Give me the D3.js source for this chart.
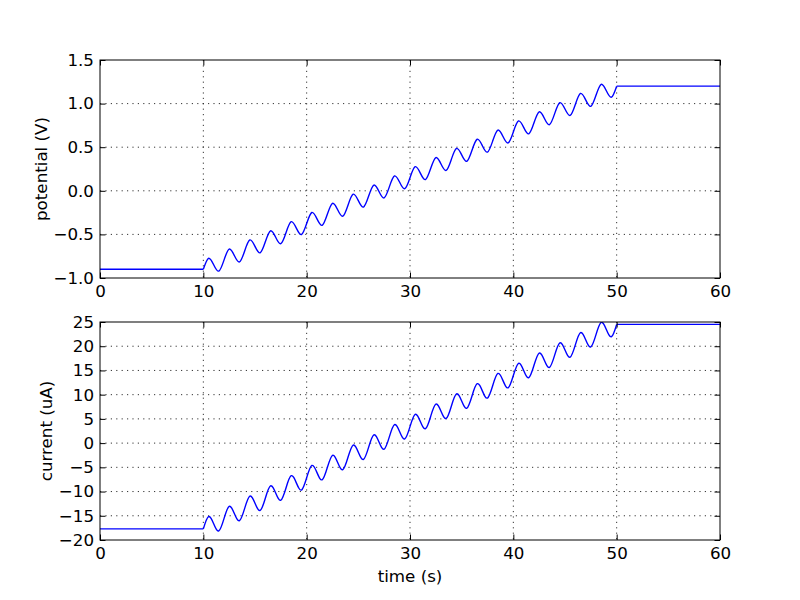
<!DOCTYPE html>
<html><head><meta charset="utf-8">
<script src="https://cdn.jsdelivr.net/npm/d3@7"></script>
<style>body{margin:0;background:#fff}svg{display:block}text{font-family:"DejaVu Sans",sans-serif;}</style>
</head><body>
<svg id="c" width="800" height="600"></svg>
<script>
const time = [0,10,10.5,11,11.5,12,12.5,13,13.5,14,14.5,15,15.5,16,16.5,17,17.5,18,18.5,19,19.5,20,20.5,21,21.5,22,22.5,23,23.5,24,24.5,25,25.5,26,26.5,27,27.5,28,28.5,29,29.5,30,30.5,31,31.5,32,32.5,33,33.5,34,34.5,35,35.5,36,36.5,37,37.5,38,38.5,39,39.5,40,40.5,41,41.5,42,42.5,43,43.5,44,44.5,45,45.5,46,46.5,47,47.5,48,48.5,49,49.5,50,60];
const potential = [-0.9,-0.9,-0.774,-0.8475,-0.921,-0.795,-0.669,-0.7425,-0.816,-0.69,-0.564,-0.6375,-0.711,-0.585,-0.459,-0.5325,-0.606,-0.48,-0.354,-0.4275,-0.501,-0.375,-0.249,-0.3225,-0.396,-0.27,-0.144,-0.2175,-0.291,-0.165,-0.039,-0.1125,-0.186,-0.06,0.066,-0.0075,-0.081,0.045,0.171,0.0975,0.024,0.15,0.276,0.2025,0.129,0.255,0.381,0.3075,0.234,0.36,0.486,0.4125,0.339,0.465,0.591,0.5175,0.444,0.57,0.696,0.6225,0.549,0.675,0.801,0.7275,0.654,0.78,0.906,0.8325,0.759,0.885,1.011,0.9375,0.864,0.99,1.116,1.0425,0.969,1.095,1.221,1.1475,1.074,1.2,1.2];
const current = [-17.7,-17.7,-15.17,-16.645,-18.12,-15.59,-13.06,-14.535,-16.01,-13.48,-10.95,-12.425,-13.9,-11.37,-8.84,-10.315,-11.79,-9.26,-6.73,-8.205,-9.68,-7.15,-4.62,-6.095,-7.57,-5.04,-2.51,-3.985,-5.46,-2.93,-0.4,-1.875,-3.35,-0.82,1.71,0.235,-1.24,1.29,3.82,2.345,0.87,3.4,5.93,4.455,2.98,5.51,8.04,6.565,5.09,7.62,10.15,8.675,7.2,9.73,12.26,10.785,9.31,11.84,14.37,12.895,11.42,13.95,16.48,15.005,13.53,16.06,18.59,17.115,15.64,18.17,20.7,19.225,17.75,20.28,22.81,21.335,19.86,22.39,24.92,23.445,21.97,24.5,24.5];
const xTicks = [0,10,20,30,40,50,60];
const potTicks = [-1.0,-0.5,0.0,0.5,1.0,1.5];
const curTicks = [-20,-15,-10,-5,0,5,10,15,20,25];

const svg = d3.select("#c");
const L = 100, R = 720;
const FS = "16.7px";
const fmtMinus = s => s.replace("-", "\u2212");

function panel(top, bottom, yDomain, yTicks, yFmt, yData, ylabel, ylabelX, showXLabel){
  const x = d3.scaleLinear().domain([0,60]).range([L,R]);
  const y = d3.scaleLinear().domain(yDomain).range([bottom,top]);
  const g = svg.append("g");
  // grid
  g.append("g").selectAll("line").data(xTicks.slice(1,-1)).join("line")
    .attr("x1",d=>x(d)).attr("x2",d=>x(d)).attr("y1",top).attr("y2",bottom)
    .attr("stroke","#000").attr("stroke-width",0.8).attr("stroke-dasharray","1.2,4.2");
  g.append("g").selectAll("line").data(yTicks.slice(1,-1)).join("line")
    .attr("y1",d=>y(d)).attr("y2",d=>y(d)).attr("x1",L).attr("x2",R)
    .attr("stroke","#000").attr("stroke-width",0.8).attr("stroke-dasharray","1.2,4.2");
  // data
  const pts = time.map((t,i)=>[t,yData[i]]);
  const n = pts.length;
  const lin = d3.line().x(d=>x(d[0])).y(d=>y(d[1]));
  const nat = d3.line().x(d=>x(d[0])).y(d=>y(d[1])).curve(d3.curveNatural);
  const clip = "clip"+top;
  svg.append("clipPath").attr("id",clip).append("rect").attr("x",L).attr("y",top).attr("width",R-L).attr("height",bottom-top);
  const dg = g.append("g").attr("clip-path",`url(#${clip})`);
  [lin(pts.slice(0,2)), nat(pts.slice(1,n-1)), lin(pts.slice(n-2))].forEach(p=>{
    dg.append("path").attr("d",p).attr("fill","none").attr("stroke","#0000ff").attr("stroke-width",1.4).attr("stroke-linejoin","round");
  });
  // axes with inward ticks
  const axB = d3.axisBottom(x).tickValues(xTicks).tickSize(-5.5).tickPadding(7).tickFormat(d3.format("d"));
  const axT = d3.axisTop(x).tickValues(xTicks).tickSize(-5.5).tickFormat("");
  const axLf = d3.axisLeft(y).tickValues(yTicks).tickSize(-5.5).tickPadding(6).tickFormat(d=>fmtMinus(yFmt(d)));
  const axRt = d3.axisRight(y).tickValues(yTicks).tickSize(-5.5).tickFormat("");
  [[axB,`translate(0,${bottom})`],[axT,`translate(0,${top})`],[axLf,`translate(${L},0)`],[axRt,`translate(${R},0)`]].forEach(([a,tr])=>{
    const ag = g.append("g").attr("transform",tr).call(a);
    ag.select(".domain").remove();
    ag.selectAll("line").attr("stroke","#000");
    ag.selectAll("text").attr("fill","#000").style("font-size",FS).style("font-family","DejaVu Sans");
  });
  g.append("rect").attr("x",L).attr("y",top).attr("width",R-L).attr("height",bottom-top)
    .attr("fill","none").attr("stroke","#000").attr("stroke-width",1);
  g.append("text").attr("transform",`translate(${ylabelX},${(top+bottom)/2}) rotate(-90)`)
    .attr("text-anchor","middle").style("font-size",FS).text(ylabel);
  if(showXLabel){
    g.append("text").attr("x",(L+R)/2).attr("y",582).attr("text-anchor","middle").style("font-size",FS).text("time (s)");
  }
}
panel(60,278,[-1.0,1.5],potTicks,d3.format(".1f"),potential,"potential (V)",47,false);
panel(322,540,[-20,25],curTicks,d3.format("d"),current,"current (uA)",52,true);
</script>
</body></html>
